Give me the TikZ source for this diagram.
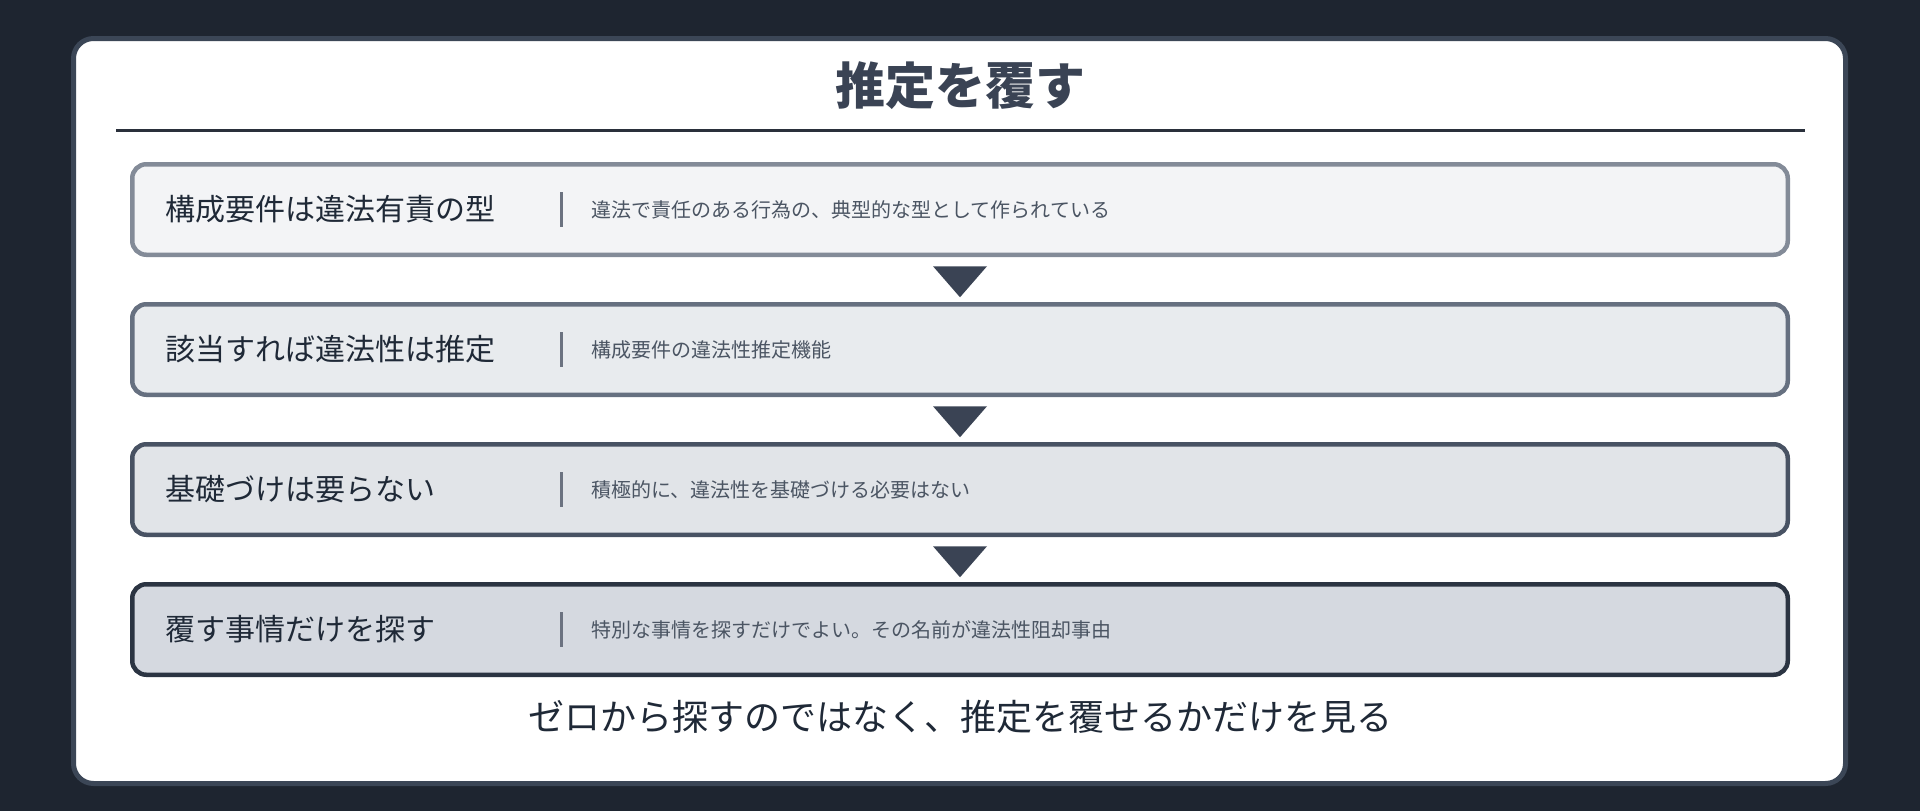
\documentclass[tikz,border=0pt]{standalone}
\usepackage{fontspec}
\setmainfont{Noto Sans CJK JP}
\usetikzlibrary{calc}
\definecolor{bgc}{HTML}{1E2530}
\definecolor{cardb}{HTML}{3B4656}
\definecolor{titlec}{HTML}{3A4354}
\definecolor{rulec}{HTML}{2A303B}
\definecolor{bAb}{HTML}{838B98}\definecolor{bAf}{HTML}{F3F4F6}
\definecolor{bBb}{HTML}{667080}\definecolor{bBf}{HTML}{E8EBEE}
\definecolor{bCb}{HTML}{485263}\definecolor{bCf}{HTML}{E1E4E8}
\definecolor{bDb}{HTML}{2B3442}\definecolor{bDf}{HTML}{D5D9E0}
\definecolor{labc}{HTML}{1F2937}
\definecolor{descc}{HTML}{4B5563}
\definecolor{sepc}{HTML}{6B7280}
\definecolor{tric}{HTML}{3A4354}
\tikzset{
  stepbox/.style={draw, line width=4.5pt, rounded corners=14pt, minimum width=1655.5pt, minimum height=90.5pt, inner sep=0pt},
  labtext/.style={anchor=west, text=labc, font=\fontsize{30pt}{36pt}\selectfont, inner sep=0pt},
  desctext/.style={anchor=west, text=descc, font=\fontsize{20pt}{24pt}\selectfont, inner sep=0pt},
  sepline/.style={draw=sepc, line width=3pt},
  tri/.style={fill=tric}
}
\begin{document}
\begin{tikzpicture}[x=1pt,y=-1pt]
\useasboundingbox (0,0) rectangle (1920,811);
\fill[bgc] (0,0) rectangle (1920,811);
\draw[cardb, fill=white, line width=5pt, rounded corners=20pt] (73.5,38.5) rectangle (1845.5,783.5);
\node[text=titlec, font=\fontsize{50pt}{60pt}\selectfont\bfseries, inner sep=0pt] (title) at (960,86) {推定を覆す};
\draw[rulec, line width=3pt] (116,130) coordinate (rl) -- (1805,130) coordinate (rr);
\foreach \i/\bc/\fc/\lab/\desc in {
  0/bAb/bAf/構成要件は違法有責の型/違法で責任のある行為の、典型的な型として作られている,
  1/bBb/bBf/該当すれば違法性は推定/構成要件の違法性推定機能,
  2/bCb/bCf/基礎づけは要らない/積極的に、違法性を基礎づける必要はない,
  3/bDb/bDf/覆す事情だけを探す/特別な事情を探すだけでよい。その名前が違法性阻却事由}{
  \node[stepbox, draw=\bc, fill=\fc] (b\i) at (960,{209.5+140*\i}) {};
  \node[labtext] (l\i) at (165,{209.5+140*\i}) {\lab};
  \draw[sepline] (561.5,{192+140*\i}) coordinate (sa\i) -- (561.5,{227+140*\i}) coordinate (sb\i);
  \node[desctext] (d\i) at (591,{209.5+140*\i}) {\desc};
}
\foreach \i in {0,1,2}{
  \fill[tri] ($(b\i.south)+(-27,9.25)$) -- ++(54,0) -- ++(-27,31) -- cycle;
}
\node[text=labc, font=\fontsize{36pt}{42pt}\selectfont, inner sep=0pt] (foot) at (960,717) {ゼロから探すのではなく、推定を覆せるかだけを見る};
\end{tikzpicture}
\end{document}
